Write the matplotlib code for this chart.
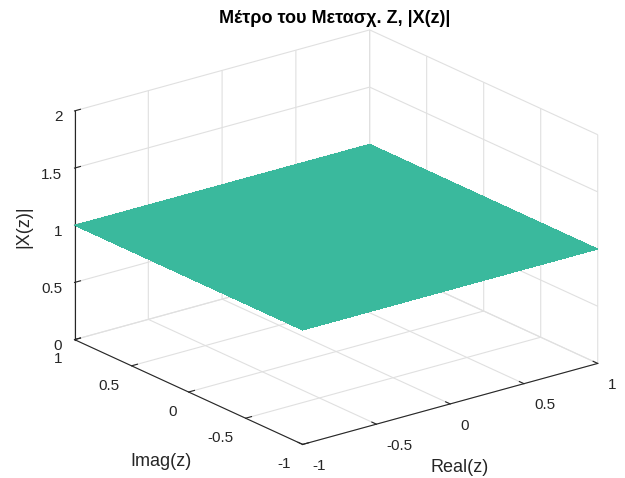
import numpy as np
import matplotlib.pyplot as plt

plt.rcParams['font.family'] = ['Liberation Sans', 'DejaVu Sans']
plt.rcParams['axes.unicode_minus'] = False

# grid of the z-plane and the magnitude |X(z)| on it
real_vals = [-1.0, -0.5, 0.0, 0.5, 1.0]
imag_vals = [-1.0, -0.5, 0.0, 0.5, 1.0]
mag_vals = [[1, 1, 1, 1, 1],
            [1, 1, 1, 1, 1],
            [1, 1, 1, 1, 1],
            [1, 1, 1, 1, 1],
            [1, 1, 1, 1, 1]]

xy_ticks = [-1, -0.5, 0, 0.5, 1]
xy_labels = ['-1', '-0.5', '0', '0.5', '1']
z_ticks = [0, 0.5, 1, 1.5, 2]
z_labels = ['0', '0.5', '1', '1.5', '2']

X, Y = np.meshgrid(real_vals, imag_vals)
Z = np.array(mag_vals, dtype=float)

fig = plt.figure(figsize=(6.25, 4.78), dpi=100)
ax = fig.add_axes([0.028, 0.016, 1.0, 0.95], projection='3d', proj_type='ortho')
ax.view_init(elev=20.8, azim=-127.7)
ax.set_box_aspect((1, 1, 0.656), zoom=1.243)

surf = ax.plot_surface(X, Y, Z, color='#3ab99d', shade=False, linewidth=0, antialiased=False)
surf.set_clip_on(False)

ax.set_xlim(-1, 1, view_margin=0)
ax.set_ylim(-1, 1, view_margin=0)
ax.set_zlim(0, 2, view_margin=0)
ax.set_xticks(xy_ticks)
ax.set_xticklabels(xy_labels)
ax.set_yticks(xy_ticks)
ax.set_yticklabels(xy_labels)
ax.set_zticks(z_ticks)
ax.set_zticklabels(z_labels)

for a in (ax.xaxis, ax.yaxis, ax.zaxis):
    a.set_pane_color((1, 1, 1, 0))
    a.pane.set_edgecolor('#dcdcdc')
    a.line.set_color('#262626')
    a.line.set_linewidth(0.8)
    a._axinfo['grid']['color'] = '#e0e0e0'
    a._axinfo['grid']['linewidth'] = 0.8
    a._axinfo['tick']['inward_factor'] = 0.0
    a._axinfo['tick']['outward_factor'] = 0.25
    a.set_tick_params(labelsize=11, colors='#262626')
ax.xaxis.set_tick_params(pad=-0.5)
ax.yaxis.set_tick_params(pad=-1)
ax.zaxis.set_tick_params(pad=-4)

for t in ax.get_xticklabels():
    t.set_ha('left')
for t in ax.get_yticklabels():
    t.set_ha('right')
for t in ax.get_zticklabels():
    t.set_ha('right')

# axis titles placed like the original (horizontal x/y labels)
fig.text(460 / 625, 1 - 467 / 478, 'Real(z)', ha='center', va='center',
         fontsize=13, color='#262626')
fig.text(161 / 625, 1 - 462 / 478, 'Imag(z)', ha='center', va='center',
         fontsize=13, color='#262626')
fig.text(24 / 625, 1 - 227 / 478, '|X(z)|', ha='center', va='center',
         fontsize=13, color='#262626', rotation=90)

fig.text(0.536, 0.962, 'Μέτρο του Μετασχ. Z, |X(z)|', ha='center', va='center',
         fontsize=13, fontweight='bold')

fig.savefig('out.png', dpi=100)
